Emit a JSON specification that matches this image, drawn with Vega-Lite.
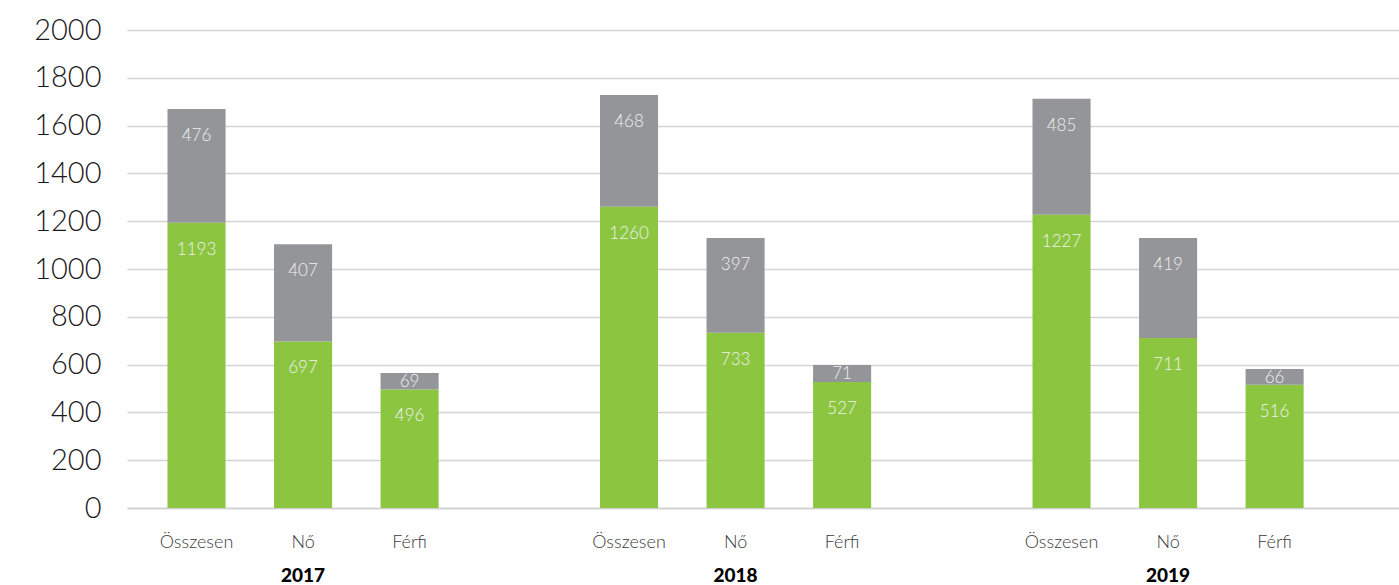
{
  "$schema": "https://vega.github.io/schema/vega-lite/v6.json",
  "width": 1272,
  "height": 478,
  "autosize": {"type": "none"},
  "padding": {"left": 127, "top": 30, "right": 0, "bottom": 77},
  "background": "white",
  "config": {"view": {"stroke": null}, "font": "Lato"},
  "data": {
    "values": [
      {"ev": "2017", "kategoria": "Összesen", "sorozat": "a", "ertek": 1193},
      {"ev": "2017", "kategoria": "Összesen", "sorozat": "b", "ertek": 476},
      {"ev": "2017", "kategoria": "Nő", "sorozat": "a", "ertek": 697},
      {"ev": "2017", "kategoria": "Nő", "sorozat": "b", "ertek": 407},
      {"ev": "2017", "kategoria": "Férfi", "sorozat": "a", "ertek": 496},
      {"ev": "2017", "kategoria": "Férfi", "sorozat": "b", "ertek": 69},
      {"ev": "2018", "kategoria": "Összesen", "sorozat": "a", "ertek": 1260},
      {"ev": "2018", "kategoria": "Összesen", "sorozat": "b", "ertek": 468},
      {"ev": "2018", "kategoria": "Nő", "sorozat": "a", "ertek": 733},
      {"ev": "2018", "kategoria": "Nő", "sorozat": "b", "ertek": 397},
      {"ev": "2018", "kategoria": "Férfi", "sorozat": "a", "ertek": 527},
      {"ev": "2018", "kategoria": "Férfi", "sorozat": "b", "ertek": 71},
      {"ev": "2019", "kategoria": "Összesen", "sorozat": "a", "ertek": 1227},
      {"ev": "2019", "kategoria": "Összesen", "sorozat": "b", "ertek": 485},
      {"ev": "2019", "kategoria": "Nő", "sorozat": "a", "ertek": 711},
      {"ev": "2019", "kategoria": "Nő", "sorozat": "b", "ertek": 419},
      {"ev": "2019", "kategoria": "Férfi", "sorozat": "a", "ertek": 516},
      {"ev": "2019", "kategoria": "Férfi", "sorozat": "b", "ertek": 66}
    ]
  },
  "transform": [
    {"stack": "ertek", "groupby": ["ev", "kategoria"], "sort": [{"field": "sorozat", "order": "ascending"}], "offset": "zero", "as": ["y0", "y1"]}
  ],
  "encoding": {
    "x": {
      "field": "ev",
      "type": "nominal",
      "title": null,
      "scale": {"type": "band", "paddingInner": 0.261, "paddingOuter": 0.101, "align": 0.186},
      "axis": {
        "labelAngle": 0,
        "labelFontSize": 19,
        "labelFontWeight": 900,
        "labelColor": "#000000",
        "labelPadding": 58,
        "ticks": false,
        "domain": true,
        "domainColor": "#d0d0d0",
        "domainWidth": 1.5
      }
    },
    "xOffset": {
      "field": "kategoria",
      "type": "nominal",
      "scale": {"domain": ["Összesen", "Nő", "Férfi"], "paddingInner": 0.455, "paddingOuter": 0.2275}
    }
  },
  "layer": [
    {
      "mark": {"type": "bar"},
      "encoding": {
        "y": {
          "field": "y0",
          "type": "quantitative",
          "title": null,
          "scale": {"domain": [0, 2000]},
          "axis": {
            "values": [0, 200, 400, 600, 800, 1000, 1200, 1400, 1600, 1800, 2000],
            "format": "d",
            "labelFontSize": 29,
            "labelFontWeight": 300,
            "labelColor": "#1a1a1a",
            "labelPadding": 26,
            "domain": false,
            "ticks": false,
            "gridColor": "#d4d4d4",
            "gridWidth": 1.5
          }
        },
        "y2": {"field": "y1"},
        "color": {
          "field": "sorozat",
          "type": "nominal",
          "scale": {"domain": ["a", "b"], "range": ["#8cc640", "#939598"]},
          "legend": null
        }
      }
    },
    {
      "transform": [{"filter": "datum.ertek >= 100"}],
      "mark": {"type": "text", "dy": 27, "baseline": "middle", "align": "center", "fontSize": 17, "fontWeight": 300, "color": "#f0f0f0"},
      "encoding": {
        "y": {"field": "y1", "type": "quantitative"},
        "text": {"field": "ertek", "type": "quantitative"}
      }
    },
    {
      "transform": [{"filter": "datum.ertek < 100"}],
      "mark": {"type": "text", "dy": 9, "baseline": "middle", "align": "center", "fontSize": 17, "fontWeight": 300, "color": "#f0f0f0"},
      "encoding": {
        "y": {"field": "y1", "type": "quantitative"},
        "text": {"field": "ertek", "type": "quantitative"}
      }
    },
    {
      "transform": [{"filter": "datum.sorozat == 'a'"}],
      "mark": {"type": "text", "dy": 35, "baseline": "middle", "align": "center", "fontSize": 18, "fontWeight": 300, "color": "#3c3c3c"},
      "encoding": {
        "y": {"datum": 0, "type": "quantitative"},
        "text": {"field": "kategoria", "type": "nominal"}
      }
    }
  ]
}
